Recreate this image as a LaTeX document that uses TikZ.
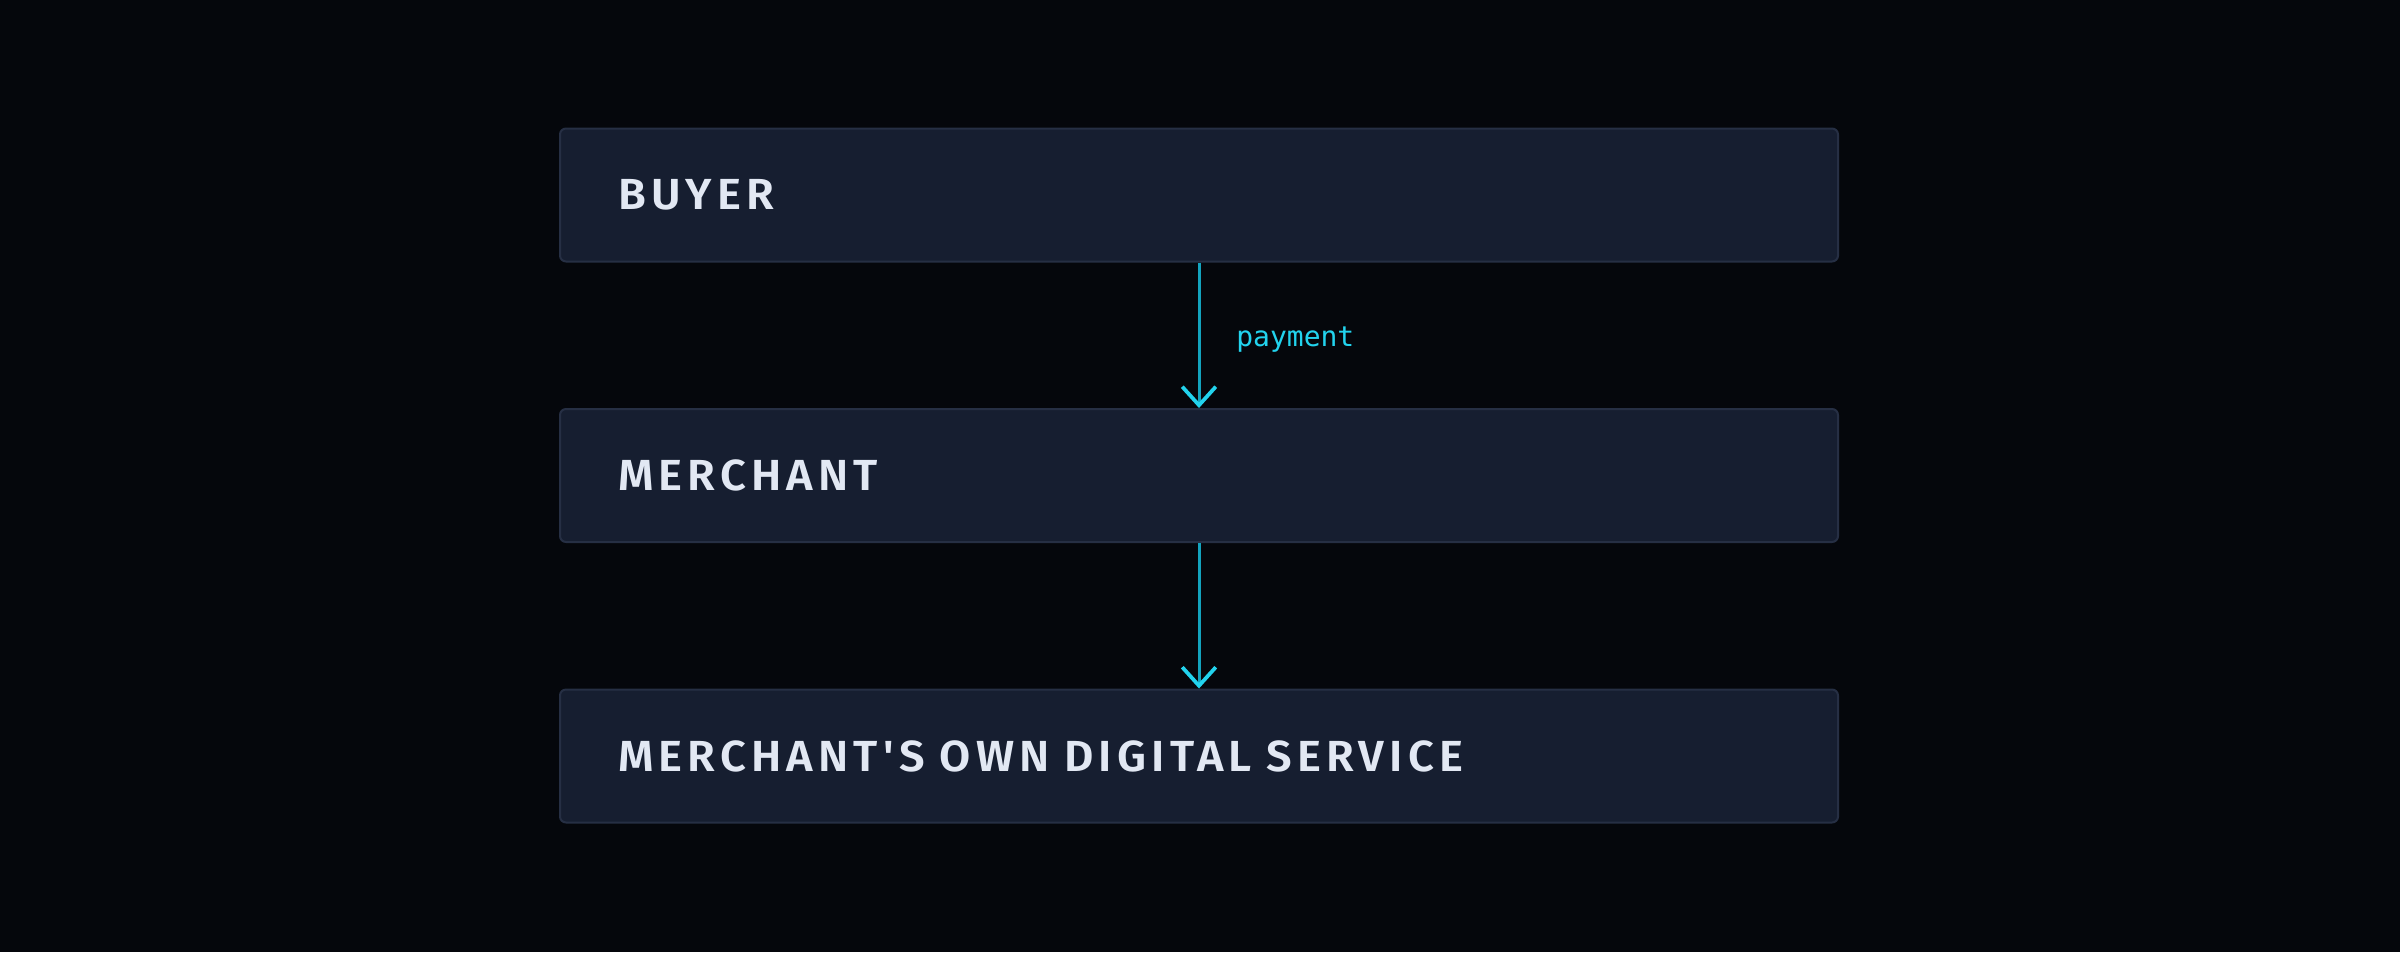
\documentclass[tikz,border=0pt]{standalone}
\usepackage{fontspec}
\usetikzlibrary{positioning,arrows.meta}
\newfontfamily\boxfont{Fira Sans SemiBold}[LetterSpace=12, FakeStretch=1.04]
\newfontfamily\labelfont{DejaVu Sans Mono}
\definecolor{bgcol}{HTML}{05070C}
\definecolor{boxfill}{HTML}{161E30}
\definecolor{boxline}{HTML}{262F44}
\definecolor{boxtext}{HTML}{E2E8F3}
\definecolor{flowcol}{HTML}{13A3BE}
\definecolor{headcol}{HTML}{22D3EE}
\tikzstyle{block} = [rectangle, draw=boxline, line width=0.8pt, fill=boxfill,
text width=464.8pt, align=left, inner xsep=23.2pt, minimum height=53.2pt,
rounded corners=2.4pt, text=boxtext, font=\boxfont\fontsize{17.4}{20}\selectfont]
\tikzstyle{line} = [draw=flowcol, line width=1.2pt,
-{Straight Barb[color=headcol, length=7.4pt, width=13.4pt, line width=1.5pt]}]
\tikzstyle{tag} = [text=headcol, font=\labelfont\fontsize{11.2}{13}\selectfont]

\begin{document}
\begin{tikzpicture}[x=1pt,y=1pt]
 \fill [bgcol] (0,0) rectangle (960,-380.8);
 \useasboundingbox (0,0) rectangle (960,-380.8);
 \node [block] (BY) at (479.6,-78) {BUYER};
 \node [block, below=58.2pt of BY] (MC) {MERCHANT};
 \node [block, below=58.2pt of MC] (DS) {MERCHANT'S OWN DIGITAL SERVICE};
 \path [line] (BY) -- node [tag, right=11pt, yshift=-1.6pt] {payment} (MC);
 \path [line] (MC) -- (DS);
\end{tikzpicture}
\end{document}
